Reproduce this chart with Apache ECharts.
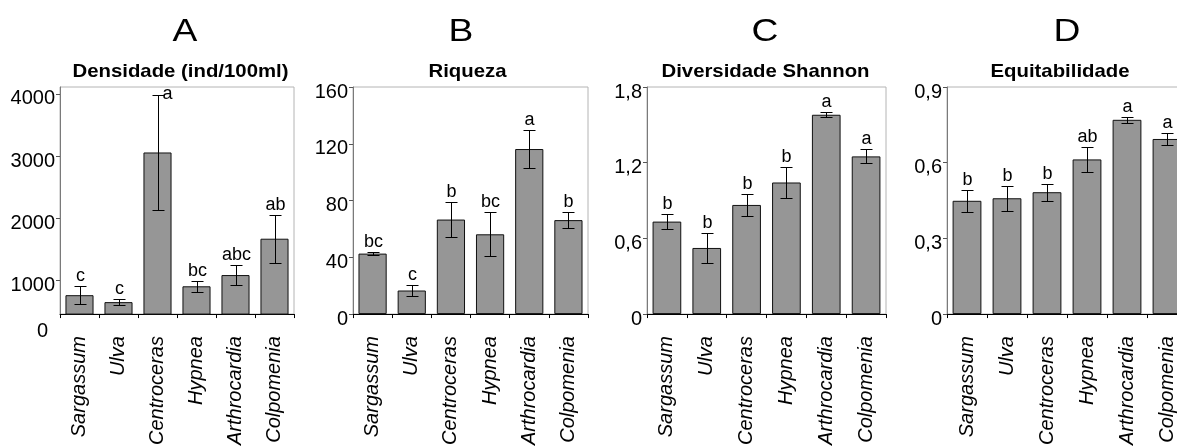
<!DOCTYPE html>
<html>
<head>
<meta charset="utf-8">
<script src="https://cdn.jsdelivr.net/npm/echarts@6/dist/echarts.min.js"></script>
<style>
html,body{margin:0;padding:0;background:#fff;overflow:hidden;}
#chart{width:1200px;height:448px;}
</style>
</head>
<body>
<div id="chart"></div>
<script>
// ---- data ----
const categories = ['Sargassum', 'Ulva', 'Centroceras', 'Hypnea', 'Arthrocardia', 'Colpomenia'];
const panelLetters = ['A', 'B', 'C', 'D'];
const panelTitles = ['Densidade (ind/100ml)', 'Riqueza', 'Diversidade Shannon', 'Equitabilidade'];

const densidade = [761, 649, 3058, 904, 1085, 1670];
const densidadeErr = [143, 46, 923, 91, 160, 385];
const densidadeLetters = ['c', 'c', 'a', 'bc', 'abc', 'ab'];
const densidadeTicks = [1000, 2000, 3000, 4000];

const riqueza = [42.6, 16.6, 66.6, 56.2, 116.3, 66.2];
const riquezaErr = [1.3, 4.2, 12.5, 15.6, 13.5, 5.9];
const riquezaLetters = ['bc', 'c', 'b', 'bc', 'a', 'b'];
const riquezaTicks = [0, 40, 80, 120, 160];

const shannon = [0.733, 0.524, 0.865, 1.043, 1.580, 1.250];
const shannonErr = [0.057, 0.117, 0.088, 0.123, 0.020, 0.056];
const shannonLetters = ['b', 'b', 'b', 'b', 'a', 'a'];
const shannonTicks = [0, 0.6, 1.2, 1.8];

const equit = [0.449, 0.459, 0.483, 0.613, 0.770, 0.694];
const equitErr = [0.044, 0.050, 0.034, 0.050, 0.013, 0.023];
const equitLetters = ['b', 'b', 'b', 'ab', 'a', 'a'];
const equitTicks = [0, 0.3, 0.6, 0.9];

// ---- layout ----
const FONT = '"Liberation Sans", Arial, sans-serif';
const panels = [
  { vals: densidade, errs: densidadeErr, letters: densidadeLetters, ticks: densidadeTicks, min: 457, max: 4112,
    grid: { left: 60, top: 87, width: 234, height: 229 }, letterX: 185, titleX: 180.5 },
  { vals: riqueza, errs: riquezaErr, letters: riquezaLetters, ticks: riquezaTicks, min: 0, max: 160,
    grid: { left: 353, top: 87, width: 235, height: 229 }, letterX: 461, titleX: 467.5 },
  { vals: shannon, errs: shannonErr, letters: shannonLetters, ticks: shannonTicks, min: 0, max: 1.8,
    grid: { left: 647, top: 87, width: 239, height: 229 }, letterX: 765, titleX: 765.5 },
  { vals: equit, errs: equitErr, letters: equitLetters, ticks: equitTicks, min: 0, max: 0.9,
    grid: { left: 947, top: 87, width: 240, height: 229 }, letterX: 1067, titleX: 1060 }
];

const grids = [], xAxes = [], yAxes = [], series = [], graphics = [];

panels.forEach((p, k) => {
  grids.push(Object.assign({ show: true, borderColor: '#b4b4b4', borderWidth: 1, backgroundColor: 'transparent' }, p.grid));
  xAxes.push({
    type: 'category', gridIndex: k, data: categories,
    axisLine: { show: true, lineStyle: { color: '#000', width: 1 } },
    axisTick: { show: true, length: 4, lineStyle: { color: '#000' } },
    axisLabel: { rotate: 90, margin: 22, fontSize: 20, fontStyle: 'italic', color: '#000', fontFamily: FONT },
    splitLine: { show: false }
  });
  yAxes.push({
    type: 'value', gridIndex: k, min: p.min, max: p.max,
    axisLine: { show: true, lineStyle: { color: '#7a7a7a', width: 1 } },
    axisTick: { show: true, length: 4, lineStyle: { color: '#555' }, customValues: p.ticks },
    axisLabel: {
      customValues: p.ticks, fontSize: 20, color: '#000', fontFamily: FONT, margin: 5,
      verticalAlign: 'top', lineHeight: 10,
      formatter: v => String(v).replace('.', ',')
    },
    splitLine: { show: false }
  });
  series.push({
    type: 'bar', xAxisIndex: k, yAxisIndex: k, data: p.vals,
    barCategoryGap: '28%',
    itemStyle: { color: '#969696', borderColor: '#111', borderWidth: 1 },
    silent: true, animation: false
  });
  const letters = p.letters;
  series.push({
    type: 'custom', xAxisIndex: k, yAxisIndex: k,
    data: p.vals.map((v, i) => [i, v, p.errs[i]]),
    silent: true, animation: false, z: 5,
    renderItem: function (params, api) {
      const i = api.value(0), v = api.value(1), e = api.value(2);
      const x = Math.round(api.coord([i, v])[0]) + 0.5;
      const top = Math.round(api.coord([i, v + e])[1]) + 0.5;
      const bot = Math.round(api.coord([i, v - e])[1]) + 0.5;
      const hw = 6;
      const ls = { stroke: '#000', lineWidth: 1 };
      const gridTop = params.coordSys.y;
      const fits = top - 18 >= gridTop;
      const txt = fits
        ? { text: letters[params.dataIndex], x: x, y: top - 1, textAlign: 'center', textVerticalAlign: 'bottom',
            font: '18px ' + FONT, fill: '#000' }
        : { text: letters[params.dataIndex], x: x + hw - 2, y: top - 1, textAlign: 'left', textVerticalAlign: 'middle',
            font: '18px ' + FONT, fill: '#000' };
      return {
        type: 'group',
        children: [
          { type: 'line', shape: { x1: x, y1: top, x2: x, y2: bot }, style: ls },
          { type: 'line', shape: { x1: x - hw, y1: top, x2: x + hw, y2: top }, style: ls },
          { type: 'line', shape: { x1: x - hw, y1: bot, x2: x + hw, y2: bot }, style: ls },
          { type: 'text', style: txt }
        ]
      };
    }
  });
  graphics.push({
    type: 'text', x: p.letterX, y: 32, scaleX: 1.2, scaleY: 1,
    style: { text: panelLetters[k], font: '31px ' + FONT, fill: '#000', textAlign: 'center', textVerticalAlign: 'middle' }
  });
  graphics.push({
    type: 'text', x: p.titleX, y: 72, scaleX: 1.1, scaleY: 1,
    style: { text: panelTitles[k], font: 'bold 18.5px ' + FONT, fill: '#000', textAlign: 'center', textVerticalAlign: 'middle' }
  });
});

// zero label of panel A (sits below the truncated axis)
graphics.push({
  type: 'text', x: 48, y: 331,
  style: { text: '0', font: '20px ' + FONT, fill: '#000', textAlign: 'right', textVerticalAlign: 'middle' }
});

const chart = echarts.init(document.getElementById('chart'), null, { renderer: 'canvas' });
chart.setOption({
  backgroundColor: '#fff',
  animation: false,
  grid: grids,
  xAxis: xAxes,
  yAxis: yAxes,
  series: series,
  graphic: graphics
});
</script>
</body>
</html>
